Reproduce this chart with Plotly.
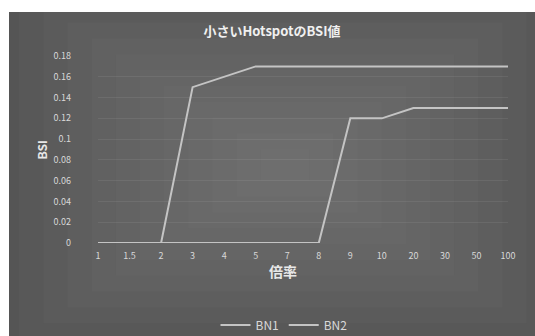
import plotly.graph_objects as go

categories = ["1", "1.5", "2", "3", "4", "5", "7", "8", "9", "10", "20", "30", "50", "100"]
bn1 = [0, 0, 0, 0.15, 0.16, 0.17, 0.17, 0.17, 0.17, 0.17, 0.17, 0.17, 0.17, 0.17]
bn2 = [0, 0, 0, 0, 0, 0, 0, 0, 0.12, 0.12, 0.13, 0.13, 0.13, 0.13]
y_ticks = [0, 0.02, 0.04, 0.06, 0.08, 0.1, 0.12, 0.14, 0.16, 0.18]
y_labels = ["0", "0.02", "0.04", "0.06", "0.08", "0.1", "0.12", "0.14", "0.16", "0.18"]

W, H = 535, 336
ML, MR, MT, MB = 98, 27, 56, 93
PW, PH = W - ML - MR, H - MT - MB

def px_to_paper_x(px):
    return (px - ML) / PW

def px_to_paper_y(py):
    return (H - MB - py) / PH

font_family = "Noto Sans CJK JP, Noto Sans, sans-serif"
line_color = "#c4c4c4"

fig = go.Figure()
fig.add_trace(go.Scatter(x=categories, y=bn1, mode="lines", name="BN1",
                         line=dict(color=line_color, width=2)))
fig.add_trace(go.Scatter(x=categories, y=bn2, mode="lines", name="BN2",
                         line=dict(color=line_color, width=2)))

shapes = []
x0, x1, y0, y1 = 9, 535, 12, 336
shapes.append(dict(type="rect", xref="paper", yref="paper", layer="below",
                   x0=px_to_paper_x(x0), x1=px_to_paper_x(x1),
                   y0=px_to_paper_y(y1), y1=px_to_paper_y(y0),
                   fillcolor="#525252", line=dict(width=0)))
cx, cy = 285, 165
n = 12
for i in range(n):
    f = 1 - i / n
    hw = 290 * f
    hh = 190 * f
    shapes.append(dict(type="rect", xref="paper", yref="paper", layer="below",
                       x0=px_to_paper_x(max(x0, cx - hw)), x1=px_to_paper_x(min(x1, cx + hw)),
                       y0=px_to_paper_y(min(y1, cy + hh)), y1=px_to_paper_y(max(y0, cy - hh)),
                       fillcolor="rgba(140,140,140,0.075)", line=dict(width=0)))

fig.update_layout(
    width=W, height=H,
    margin=dict(l=ML, r=MR, t=MT, b=MB, autoexpand=False),
    paper_bgcolor="white",
    plot_bgcolor="rgba(0,0,0,0)",
    shapes=shapes,
    font=dict(family=font_family, color="#d8d8d8", size=9),
    title=dict(text="<b>小さいHotspotのBSI値</b>", x=272 / W, xanchor="center",
               y=1 - 31 / H, yanchor="middle",
               font=dict(size=13, color="#f0f0f0", family=font_family)),
    showlegend=True,
    legend=dict(orientation="h", x=px_to_paper_x(284), xanchor="center",
                y=px_to_paper_y(325), yanchor="middle",
                font=dict(size=12, color="#d8d8d8"), bgcolor="rgba(0,0,0,0)",
                itemwidth=30, tracegroupgap=0),
    xaxis=dict(type="category", categoryorder="array", categoryarray=categories,
               range=[0, len(categories) - 1], showgrid=False, zeroline=False,
               showline=False, ticks="", tickfont=dict(size=9, color="#d8d8d8"),
               ticklabelstandoff=6),
    yaxis=dict(range=[0, 0.18], tickvals=y_ticks, ticktext=y_labels,
               showgrid=True, gridcolor="rgba(255,255,255,0.07)", gridwidth=1,
               zeroline=False, showline=False, ticks="",
               tickfont=dict(size=9, color="#d8d8d8"), ticklabelstandoff=26),
    annotations=[
        dict(text="<b>倍率</b>", xref="paper", yref="paper",
             x=px_to_paper_x(283), y=px_to_paper_y(283), showarrow=False,
             font=dict(size=14, color="#e8e8e8")),
        dict(text="<b>BSI</b>", xref="paper", yref="paper", textangle=-90,
             x=px_to_paper_x(30), y=px_to_paper_y(150), showarrow=False,
             font=dict(size=12, color="#e8e8e8")),
    ],
)

fig.write_html("out.html")
